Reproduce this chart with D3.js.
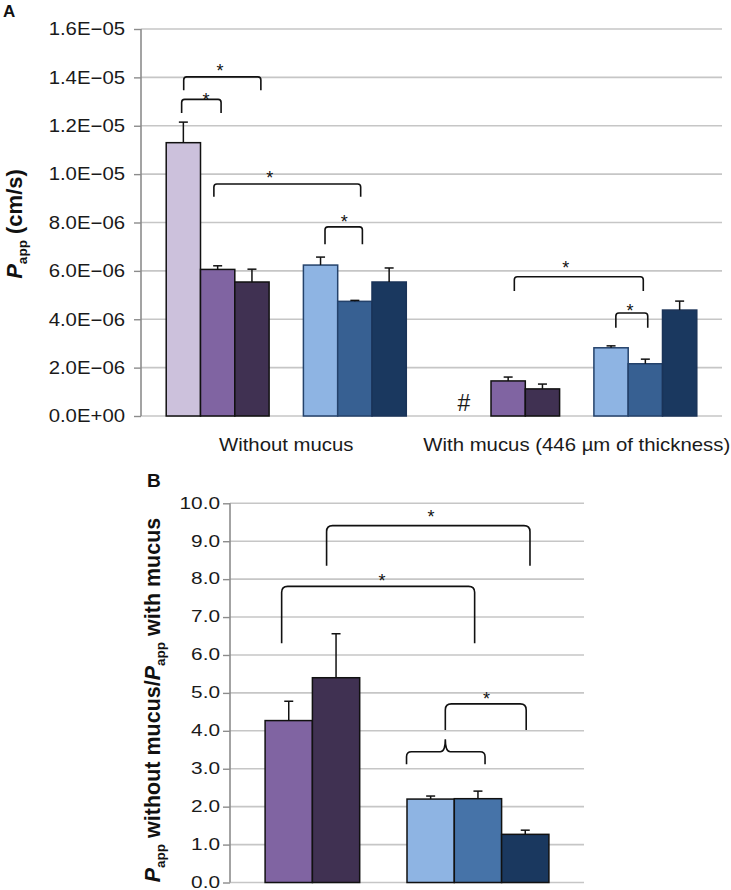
<!DOCTYPE html>
<html><head><meta charset="utf-8">
<script src="https://cdnjs.cloudflare.com/ajax/libs/d3/7.8.5/d3.min.js"></script>
<style>
body{margin:0;background:#fff;}
svg{display:block;font-family:"Liberation Sans",Arial,sans-serif;}
</style></head>
<body>
<svg id="c" width="731" height="890"></svg>
<script>
// ---------- DATA ----------
const categoriesA = ["Without mucus", "With mucus (446 µm of thickness)"];
const slotsA = ["S1", "S2", "S3", "gap", "S4", "S5", "S6"];
const seriesA = ["S1", "S2", "S3", "S4", "S5", "S6"];
// Papp (cm/s) per series, [without mucus, with mucus]
const valuesA = [
  [1.13e-5, null],
  [6.06e-6, 1.45e-6],
  [5.54e-6, 1.12e-6],
  [6.24e-6, 2.82e-6],
  [4.74e-6, 2.16e-6],
  [5.54e-6, 4.38e-6]
];
const errorsA = [
  [0.85e-6, null],
  [0.15e-6, 0.16e-6],
  [0.53e-6, 0.20e-6],
  [0.33e-6, 0.08e-6],
  [0.04e-6, 0.19e-6],
  [0.58e-6, 0.37e-6]
];
const ticksA = [0, 2e-6, 4e-6, 6e-6, 8e-6, 1e-5, 1.2e-5, 1.4e-5, 1.6e-5];

const slotsB = ["S2", "S3", "gap", "S4", "S5", "S6"];
const seriesB = ["S2", "S3", "S4", "S5", "S6"];
const valuesB = [4.27, 5.40, 2.20, 2.21, 1.27];
const errorsB = [0.51, 1.16, 0.08, 0.20, 0.11];
const ticksB = [0, 1, 2, 3, 4, 5, 6, 7, 8, 9, 10];

const fillsA = {S1:"#ccc1dc", S2:"#8064a2", S3:"#403152", S4:"#8eb4e3", S5:"#376092", S6:"#1a385f"};
const strokesA = {S1:"#111", S2:"#111", S3:"#111", S4:"#24426b", S5:"#24426b", S6:"#1a3358"};
const fillsB = {S2:"#8064a2", S3:"#403152", S4:"#8eb4e3", S5:"#4673a8", S6:"#1a385f"};

// significance brackets: x in slot units from first slot, y in data units
const bracketsA = [
  {cat:0, u0:0.45, u1:1.60, top:13.09e-6, bot:12.53e-6, su:1.16, sv:13.25e-6},
  {cat:0, u0:0.51, u1:2.76, top:14.02e-6, bot:13.47e-6, su:1.57, sv:14.43e-6},
  {cat:0, u0:1.39, u1:5.67, top:9.59e-6,  bot:9.06e-6,  su:3.02, sv:10.04e-6},
  {cat:0, u0:4.63, u1:5.72, top:7.82e-6,  bot:7.10e-6,  su:5.19, sv:8.20e-6},
  {cat:1, u0:1.68, u1:5.44, top:5.76e-6,  bot:5.17e-6,  su:3.18, sv:6.32e-6},
  {cat:1, u0:4.64, u1:5.57, top:4.26e-6,  bot:3.65e-6,  su:5.05, sv:4.52e-6}
];
const bracketsB = [
  {u0:0.35, u1:4.43, top:7.81, bot:6.31, su:2.47, sv:8.06},
  {u0:1.30, u1:5.60, top:9.41, bot:8.35, su:3.51, sv:9.76},
  {u0:3.81, u1:5.52, top:4.71, bot:4.02, su:4.68, sv:4.97}
];
const braceB = {u0:2.99, u1:4.65, um:3.81, mid:3.45, bot:3.12, tip:3.78};

// ---------- DRAW ----------
const svg = d3.select("#c");
const grid = "#c6c6c6", axisCol = "#8c8c8c";

function fmtA(v){
  if (v === 0) return "0.0E+00";
  const [m, e] = v.toExponential(1).split("e");
  const n = +e;
  return m + "E" + (n < 0 ? "\u2212" : "+") + String(Math.abs(n)).padStart(2, "0");
}
// widen text horizontally (reference glyphs are stretched)
function stretch(sel, k){
  sel.each(function(){
    const w = this.getComputedTextLength();
    d3.select(this).attr("textLength", w * k).attr("lengthAdjust", "spacingAndGlyphs");
  });
}

// ===== Panel A =====
const xA0 = d3.scaleBand().domain(categoriesA).range([141, 722]).padding(0);
const xA1 = d3.scaleBand().domain(slotsA).range([0, xA0.bandwidth()]).paddingInner(0).paddingOuter(0.735);
const yA = d3.scaleLinear().domain([0, 1.6e-5]).range([416, 29]);
const uxA = (ci, u) => xA0(categoriesA[ci]) + xA1(slotsA[0]) + u * xA1.step();

const gA = svg.append("g");
gA.selectAll("line.grid").data(ticksA).join("line")
  .attr("x1", 141).attr("x2", 722)
  .attr("y1", d => yA(d)).attr("y2", d => yA(d))
  .attr("stroke", grid).attr("stroke-width", 1.6);

seriesA.forEach((s, si) => {
  categoriesA.forEach((c, ci) => {
    const v = valuesA[si][ci];
    if (v == null) return;
    const x = xA0(c) + xA1(s), w = xA1.bandwidth();
    gA.append("rect").attr("x", x).attr("y", yA(v)).attr("width", w).attr("height", yA(0) - yA(v))
      .attr("fill", fillsA[s]).attr("stroke", strokesA[s]).attr("stroke-width", 1.5);
  });
});
seriesA.forEach((s, si) => {
  categoriesA.forEach((c, ci) => {
    const v = valuesA[si][ci], e = errorsA[si][ci];
    if (v == null) return;
    const cx = xA0(c) + xA1(s) + xA1.bandwidth() / 2;
    gA.append("line").attr("x1", cx).attr("x2", cx).attr("y1", yA(v)).attr("y2", yA(v + e))
      .attr("stroke", "#111").attr("stroke-width", 1.5);
    gA.append("line").attr("x1", cx - 4.5).attr("x2", cx + 4.5).attr("y1", yA(v + e)).attr("y2", yA(v + e))
      .attr("stroke", "#111").attr("stroke-width", 1.5);
  });
});

const axA = gA.append("g").attr("transform", "translate(141,0)")
  .call(d3.axisLeft(yA).tickValues(ticksA).tickFormat(fmtA).tickSize(7).tickPadding(9));
axA.select(".domain").attr("stroke", axisCol).attr("stroke-width", 1.6).attr("d", `M0,${yA(1.6e-5)}V${yA(0)}`);
axA.selectAll(".tick line").attr("stroke", axisCol).attr("stroke-width", 1.4);
axA.selectAll(".tick text").attr("fill", "#1a1a1a").style("font-size", "18px").attr("font-family", "Liberation Sans, Arial, sans-serif");
stretch(axA.selectAll(".tick text"), 1.13);

// category labels
const catLab = gA.selectAll("text.cat").data(categoriesA).join("text")
  .attr("x", d => xA0(d) + xA0.bandwidth() / 2).attr("y", 451)
  .attr("text-anchor", "middle").attr("font-size", 18.5).attr("fill", "#1a1a1a").text(d => d);
stretch(catLab, 1.1);

// hash mark for missing bar
gA.append("text").attr("x", uxA(1, 0.21)).attr("y", 411).attr("text-anchor", "middle")
  .attr("font-size", 23).attr("fill", "#1a1a1a").text("#");

function bracketPath(x0, x1, yt, yb, r){
  return `M${x0},${yb}L${x0},${yt + r}Q${x0},${yt} ${x0 + r},${yt}L${x1 - r},${yt}Q${x1},${yt} ${x1},${yt + r}L${x1},${yb}`;
}
bracketsA.forEach(b => {
  gA.append("path").attr("d", bracketPath(uxA(b.cat, b.u0), uxA(b.cat, b.u1), yA(b.top), yA(b.bot), 3))
    .attr("fill", "none").attr("stroke", "#111").attr("stroke-width", 1.6);
  gA.append("text").attr("x", uxA(b.cat, b.su)).attr("y", yA(b.sv) + 10.5).attr("text-anchor", "middle")
    .attr("font-size", 18).attr("fill", "#111").text("*");
});

// y title A
const tA = svg.append("text").attr("transform", "translate(22,224) rotate(-90)")
  .attr("text-anchor", "middle").attr("font-weight", "bold").attr("font-size", 22).attr("fill", "#111");
tA.append("tspan").attr("font-style", "italic").text("P");
tA.append("tspan").attr("font-size", 13.5).attr("dy", 5).text("app");
tA.append("tspan").attr("dy", -5).text(" (cm/s)");

svg.append("text").attr("x", 3).attr("y", 17).attr("font-weight", "bold").attr("font-size", 17).attr("fill", "#111").text("A");

// ===== Panel B =====
const xB = d3.scaleBand().domain(slotsB).range([230, 584]).paddingInner(0).paddingOuter(0.742);
const yB = d3.scaleLinear().domain([0, 10]).range([882.5, 503.3]);
const uxB = u => xB(slotsB[0]) + u * xB.step();

const gB = svg.append("g");
gB.selectAll("line.grid").data(ticksB).join("line")
  .attr("x1", 230).attr("x2", 584)
  .attr("y1", d => yB(d)).attr("y2", d => yB(d))
  .attr("stroke", grid).attr("stroke-width", 1.6);

seriesB.forEach((s, i) => {
  const v = valuesB[i];
  gB.append("rect").attr("x", xB(s)).attr("y", yB(v)).attr("width", xB.bandwidth()).attr("height", yB(0) - yB(v))
    .attr("fill", fillsB[s]).attr("stroke", "#111").attr("stroke-width", 1.5);
});
seriesB.forEach((s, i) => {
  const v = valuesB[i], e = errorsB[i];
  const cx = xB(s) + xB.bandwidth() / 2;
  gB.append("line").attr("x1", cx).attr("x2", cx).attr("y1", yB(v)).attr("y2", yB(v + e))
    .attr("stroke", "#111").attr("stroke-width", 1.5);
  gB.append("line").attr("x1", cx - 4.5).attr("x2", cx + 4.5).attr("y1", yB(v + e)).attr("y2", yB(v + e))
    .attr("stroke", "#111").attr("stroke-width", 1.5);
});

const axB = gB.append("g").attr("transform", "translate(230,0)")
  .call(d3.axisLeft(yB).tickValues(ticksB).tickFormat(d3.format(".1f")).tickSize(7).tickPadding(3));
axB.select(".domain").attr("stroke", axisCol).attr("stroke-width", 1.6).attr("d", `M0,${yB(10)}V${yB(0)}`);
axB.selectAll(".tick line").attr("stroke", axisCol).attr("stroke-width", 1.4);
axB.selectAll(".tick text").attr("fill", "#1a1a1a").style("font-size", "16px").attr("dy", "0.3em")
  .attr("font-family", "Liberation Sans, Arial, sans-serif");
stretch(axB.selectAll(".tick text"), 1.3);

bracketsB.forEach(b => {
  gB.append("path").attr("d", bracketPath(uxB(b.u0), uxB(b.u1), yB(b.top), yB(b.bot), 6))
    .attr("fill", "none").attr("stroke", "#111").attr("stroke-width", 1.6);
  gB.append("text").attr("x", uxB(b.su)).attr("y", yB(b.sv) + 10.5).attr("text-anchor", "middle")
    .attr("font-size", 18).attr("fill", "#111").text("*");
});
{
  const x0 = uxB(braceB.u0), x1 = uxB(braceB.u1), xm = uxB(braceB.um);
  const ym = yB(braceB.mid), yb = yB(braceB.bot), yt = yB(braceB.tip), r = 5;
  const d = `M${x0},${yb}L${x0},${ym + r}Q${x0},${ym} ${x0 + r},${ym}L${xm - r},${ym}Q${xm},${ym} ${xm},${yt}` +
            `M${xm},${yt}Q${xm},${ym} ${xm + r},${ym}L${x1 - r},${ym}Q${x1},${ym} ${x1},${ym + r}L${x1},${yb}`;
  gB.append("path").attr("d", d).attr("fill", "none").attr("stroke", "#111").attr("stroke-width", 1.6);
}

const tB = svg.append("text").attr("transform", "translate(160,700) rotate(-90)")
  .attr("text-anchor", "middle").attr("font-weight", "bold").attr("font-size", 21.5).attr("fill", "#111");
tB.append("tspan").attr("font-style", "italic").text("P");
tB.append("tspan").attr("font-size", 13.5).attr("dy", 5).text("app");
tB.append("tspan").attr("dy", -5).text(" without mucus/");
tB.append("tspan").attr("font-style", "italic").text("P");
tB.append("tspan").attr("font-size", 13.5).attr("dy", 5).text("app");
tB.append("tspan").attr("dy", -5).text(" with mucus");

svg.append("text").attr("x", 147).attr("y", 487).attr("font-weight", "bold").attr("font-size", 19).attr("fill", "#111").text("B");
</script>
</body></html>
